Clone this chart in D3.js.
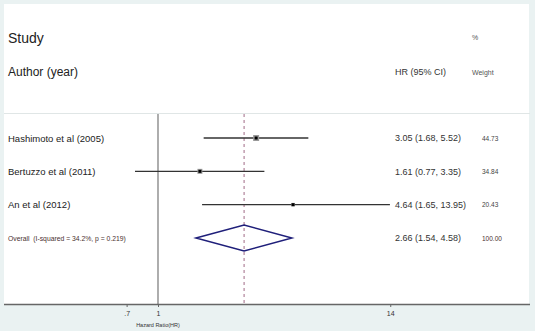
<!DOCTYPE html>
<html><head><meta charset="utf-8">
<script src="https://cdn.jsdelivr.net/npm/d3@7"></script>
<style>body{margin:0;background:#eaf2f2;}svg{display:block;font-family:"Liberation Sans",Arial,sans-serif;}</style>
</head><body>
<svg id="c" width="535" height="331"></svg>
<script>
const studies = ["Hashimoto et al (2005)", "Bertuzzo et al (2011)", "An et al (2012)"];
const hr = [3.05, 1.61, 4.64];
const lower = [1.68, 0.77, 1.65];
const upper = [5.52, 3.35, 13.95];
const weights = [44.73, 34.84, 20.43];
const overall = {label: "Overall  (I-squared = 34.2%, p = 0.219)", hr: 2.66, lo: 1.54, hi: 4.58, w: 100.00};
const ticks = [0.7, 1, 14];
const tickLabels = [".7", "1", "14"];

const svg = d3.select("#c");
const W = 535, H = 331;
svg.append("rect").attr("width", W).attr("height", H).attr("fill", "#eaf2f2");
const pL = 4, pR = 529, pT = 4, axisY = 304;
svg.append("rect").attr("x", pL).attr("y", pT).attr("width", pR - pL).attr("height", axisY - pT).attr("fill", "#ffffff");

// log scale: x(1)=158, ~88px per ln unit
const x = d3.scaleLog().domain([Math.exp((pL - 158) / 88), Math.exp((pR - 158) / 88)]).range([pL, pR]);

const rows = studies.map((s, i) => ({s, hr: hr[i], lo: lower[i], hi: upper[i], w: weights[i]}));
const y = d3.scalePoint().domain([...studies, "Overall"]).range([138, 238]);

// header
svg.append("text").attr("x", 8).attr("y", 43).attr("font-size", 14).attr("fill", "#222").text("Study");
svg.append("text").attr("x", 8).attr("y", 76).attr("font-size", 12).attr("fill", "#222").text("Author (year)");
svg.append("text").attr("x", 395).attr("y", 75).attr("font-size", 9).attr("fill", "#333").text("HR (95% CI)");
svg.append("text").attr("x", 472).attr("y", 40).attr("font-size", 7).attr("fill", "#555").text("%");
svg.append("text").attr("x", 472).attr("y", 75).attr("font-size", 7).attr("fill", "#555").text("Weight");
svg.append("line").attr("x1", pL).attr("x2", pR + 1).attr("y1", 113.5).attr("y2", 113.5).attr("stroke", "#e0e6e6").attr("stroke-width", 1);

// reference lines
svg.append("line").attr("x1", x(1)).attr("x2", x(1)).attr("y1", 114).attr("y2", axisY).attr("stroke", "#777").attr("stroke-width", 1.2);
svg.append("line").attr("x1", x(overall.hr)).attr("x2", x(overall.hr)).attr("y1", 114).attr("y2", axisY)
  .attr("stroke", "#a06a86").attr("stroke-width", 1).attr("stroke-dasharray", "3,3");

// study rows
const g = svg.append("g");
rows.forEach(r => {
  const yy = y(r.s);
  g.append("line").attr("x1", x(r.lo)).attr("x2", x(r.hi)).attr("y1", yy).attr("y2", yy).attr("stroke", "#333").attr("stroke-width", 1.4);
  const sz = 1.5 + r.w / 10;
  g.append("rect").attr("x", x(r.hr) - sz / 2).attr("y", yy - sz / 2).attr("width", sz).attr("height", sz).attr("fill", "#999");
  g.append("rect").attr("x", x(r.hr) - 1.5).attr("y", yy - 1.5).attr("width", 3).attr("height", 3).attr("fill", "#000");
  g.append("text").attr("x", 8).attr("y", yy + 3.5).attr("font-size", 9.5).attr("fill", "#222").text(r.s);
  g.append("text").attr("x", 395).attr("y", yy + 3.3).attr("font-size", 9).attr("fill", "#333")
    .text(`${r.hr.toFixed(2)} (${r.lo.toFixed(2)}, ${r.hi.toFixed(2)})`);
  g.append("text").attr("x", 482).attr("y", yy + 2.5).attr("font-size", 6.5).attr("fill", "#444").text(r.w.toFixed(2));
});

// overall
const oy = y("Overall");
svg.append("path").attr("d", `M${x(overall.lo)},${oy}L${x(overall.hr)},${oy - 13}L${x(overall.hi)},${oy}L${x(overall.hr)},${oy + 13}Z`)
  .attr("fill", "none").attr("stroke", "#1f1f7a").attr("stroke-width", 1.5);
svg.append("text").attr("x", 8).attr("y", oy + 2.5).attr("font-size", 6.8).attr("fill", "#4a3030").attr("xml:space", "preserve").style("white-space", "pre").text(overall.label);
svg.append("text").attr("x", 395).attr("y", oy + 3.3).attr("font-size", 9).attr("fill", "#333")
  .text(`${overall.hr.toFixed(2)} (${overall.lo.toFixed(2)}, ${overall.hi.toFixed(2)})`);
svg.append("text").attr("x", 482).attr("y", oy + 2.5).attr("font-size", 6.5).attr("fill", "#4a3030").text(overall.w.toFixed(2));

// axis
const axis = d3.axisBottom(x).tickValues(ticks).tickFormat((d, i) => tickLabels[i]).tickSize(3).tickSizeOuter(0);
const ag = svg.append("g").attr("transform", `translate(0,${axisY})`).call(axis);
ag.select(".domain").attr("stroke", "#666").attr("stroke-width", 1.3).attr("d", `M${pL},0.5H${pR + 1}`);
ag.selectAll(".tick line").attr("stroke", "#666");
ag.selectAll(".tick text").attr("font-size", 7).attr("fill", "#333").attr("dy", "0.9em").attr("font-family", "Liberation Sans, Arial, sans-serif");
svg.append("text").attr("x", x(1)).attr("y", 327).attr("text-anchor", "middle").attr("font-size", 5.5).attr("fill", "#333").text("Hazard Ratio(HR)");
</script>
</body></html>
